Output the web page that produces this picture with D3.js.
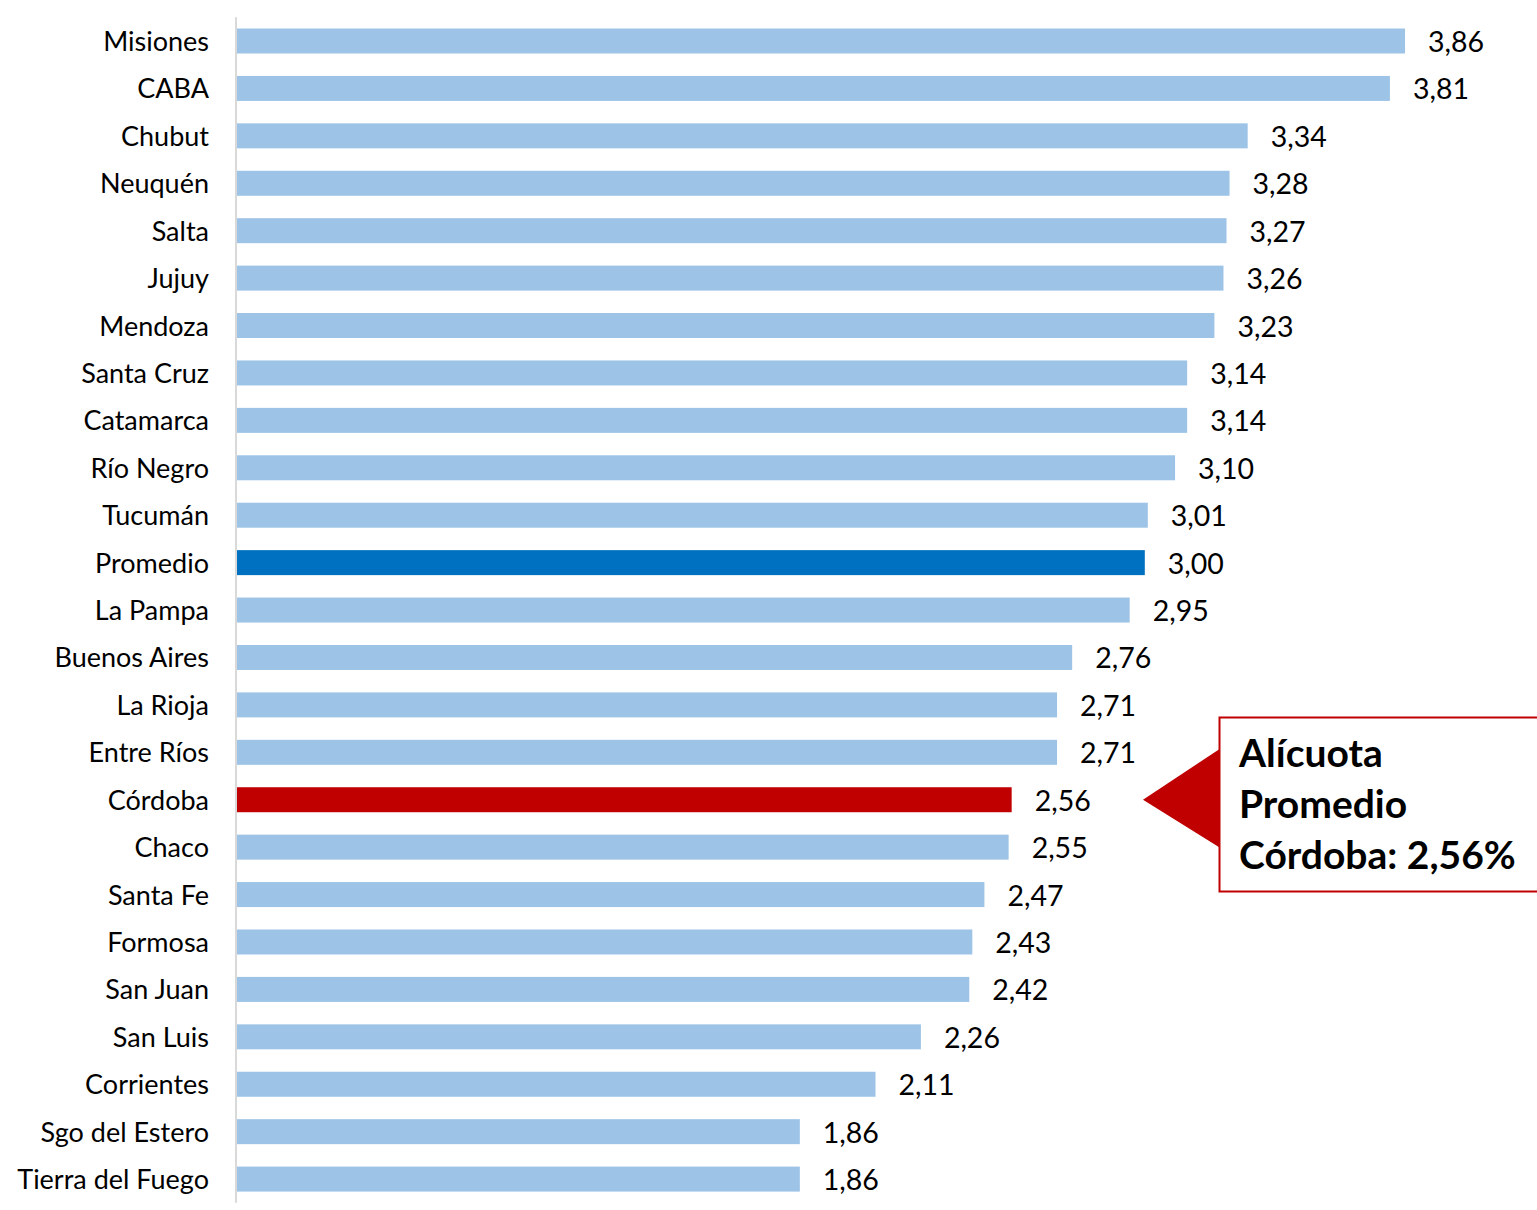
<!DOCTYPE html>
<html>
<head>
<meta charset="utf-8">
<script src="https://cdn.jsdelivr.net/npm/d3@7"></script>
<style>
  body { margin: 0; background: #fff; }
  svg { font-family: Lato, "Open Sans", sans-serif; }
</style>
</head>
<body>
<div id="chart"></div>
<script>
// Provincias y alícuota promedio
const provincias = ["Misiones", "CABA", "Chubut", "Neuquén", "Salta", "Jujuy", "Mendoza",
  "Santa Cruz", "Catamarca", "Río Negro", "Tucumán", "Promedio", "La Pampa", "Buenos Aires",
  "La Rioja", "Entre Ríos", "Córdoba", "Chaco", "Santa Fe", "Formosa", "San Juan", "San Luis",
  "Corrientes", "Sgo del Estero", "Tierra del Fuego"];
const alicuotas = [3.86, 3.81, 3.34, 3.28, 3.27, 3.26, 3.23, 3.14, 3.14, 3.10, 3.01, 3.00, 2.95,
  2.76, 2.71, 2.71, 2.56, 2.55, 2.47, 2.43, 2.42, 2.26, 2.11, 1.86, 1.86];
const nota = ["Alícuota", "Promedio", "Córdoba: 2,56%"];

const width = 1537, height = 1210;
const data = provincias.map((p, i) => ({name: p, value: alicuotas[i]}));

const svg = d3.select("#chart").append("svg")
  .attr("width", width).attr("height", height);

const y = d3.scaleBand()
  .domain(provincias)
  .range([17.3, 1202.8])
  .paddingInner(0.473)
  .paddingOuter(0.2365);

const x = d3.scaleLinear()
  .domain([0, 4.5])
  .range([237, 237 + 302.6 * 4.5]);

const color = d => d.name === "Promedio" ? "#0070C0" : d.name === "Córdoba" ? "#C00000" : "#9DC3E6";
const fmt = v => d3.format(".2f")(v).replace(".", ",");

// barras
svg.selectAll(".bar")
  .data(data)
  .enter().append("rect")
    .attr("class", "bar")
    .attr("x", x(0))
    .attr("y", d => y(d.name))
    .attr("width", d => x(d.value) - x(0))
    .attr("height", y.bandwidth())
    .attr("fill", color);

// eje vertical
const yAxis = svg.append("g")
  .attr("transform", `translate(${x(0) - 1},0)`)
  .call(d3.axisLeft(y).tickSize(0).tickPadding(27).tickSizeOuter(0));
yAxis.select(".domain").attr("stroke", "#d9d9d9").attr("stroke-width", 2)
  .attr("d", "M0,17.3V1202.8");
yAxis.selectAll("text").attr("font-size", 27).attr("fill", "#000")
  .attr("dy", "0.37em")
  .attr("font-family", "Lato, 'Open Sans', sans-serif");

// etiquetas de valor
svg.selectAll(".val")
  .data(data)
  .enter().append("text")
    .attr("class", "val")
    .attr("x", d => x(d.value) + 23)
    .attr("y", d => y(d.name) + y.bandwidth() / 2 + 1)
    .attr("dy", "0.35em")
    .attr("font-size", 28.5)
    .attr("fill", "#000")
    .text(d => fmt(d.value));

// anotación Córdoba
const g = svg.append("g");
g.append("rect")
  .attr("x", 1219.5).attr("y", 717.5)
  .attr("width", 330).attr("height", 174)
  .attr("fill", "#fff").attr("stroke", "#C00000").attr("stroke-width", 2);
const cy = y("Córdoba") + y.bandwidth() / 2;
g.append("path")
  .attr("d", `M1143,${cy}L1220,${cy - 51}L1220,${cy + 48}Z`)
  .attr("fill", "#C00000");
g.selectAll(".nota")
  .data(nota)
  .enter().append("text")
    .attr("x", 1239)
    .attr("y", (d, i) => 767 + i * 51)
    .attr("font-size", 39)
    .attr("font-weight", "bold")
    .attr("fill", "#000")
    .text(d => d);
</script>
</body>
</html>
